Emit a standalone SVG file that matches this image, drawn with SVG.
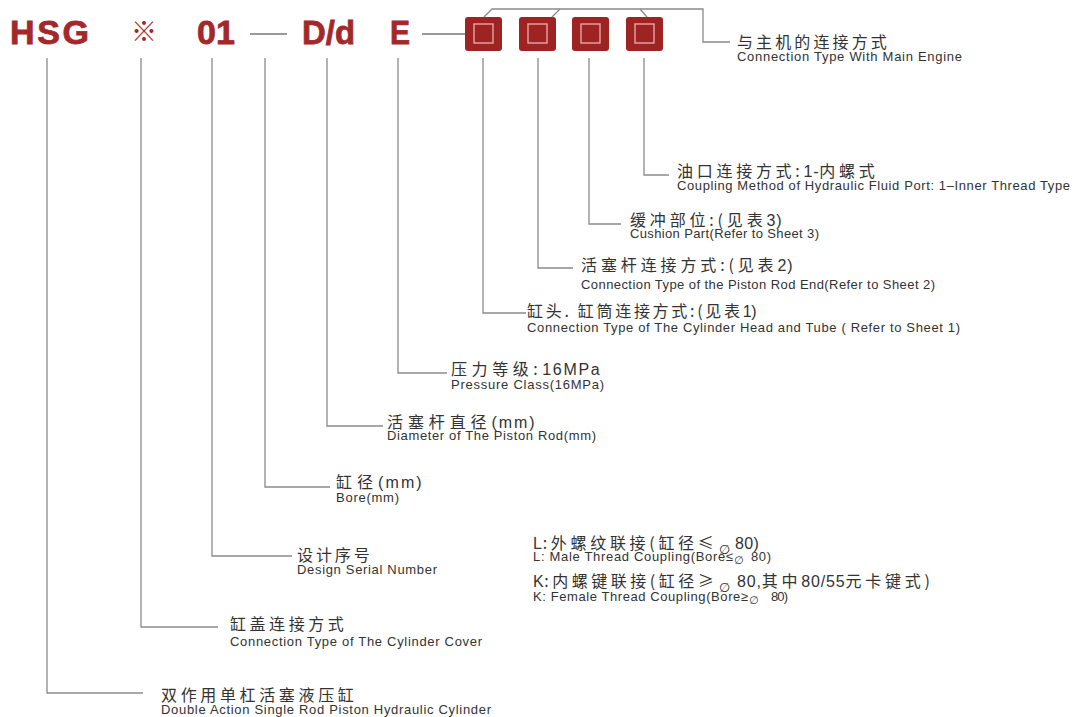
<svg xmlns="http://www.w3.org/2000/svg" width="1074" height="717" viewBox="0 0 1074 717">
<style>
.t{font-family:"Liberation Sans",Arial,sans-serif;font-weight:bold;font-size:34px;fill:#a2282a;stroke:#a2282a;stroke-width:0.8}
.cn{font-family:"Noto Sans CJK SC","Liberation Sans",sans-serif;font-size:16px;fill:#333;letter-spacing:3.2px}
.la{font-family:"Liberation Sans",Arial,sans-serif;letter-spacing:0.3px}
.en{font-family:"Liberation Sans",Arial,sans-serif;font-size:13px;fill:#333}
.ln{fill:none;stroke:#8a8a8a;stroke-width:1.3}
.dash{stroke:#9a9a9a;stroke-width:2}
.sq{fill:#9e2424}
.in{fill:none;stroke:#e9a5a5;stroke-width:1.4}
.phi{font-family:"DejaVu Sans",sans-serif;font-size:13px;fill:#333;font-style:italic}
</style>
<rect width="1074" height="717" fill="#fff"/>
<g id="code">
<text class="t" x="10" y="44" textLength="79" lengthAdjust="spacing">HSG</text>
<text x="131" y="41" style="font-family:'Noto Sans CJK SC',sans-serif;font-size:26px;fill:#a2282a">※</text>
<text class="t" x="197" y="44" textLength="38" lengthAdjust="spacing">01</text>
<text class="t" x="302" y="44" textLength="53" lengthAdjust="spacingAndGlyphs">D/d</text>
<text class="t" x="390" y="44" textLength="20" lengthAdjust="spacingAndGlyphs">E</text>
<line class="dash" x1="250" y1="34" x2="287" y2="34"/>
<line class="dash" x1="422" y1="34" x2="465" y2="34"/>
</g>
<g id="boxes">
<rect class="sq" x="465" y="17" width="37" height="34" rx="3"/>
<rect class="in" x="474" y="24" width="19" height="19"/>
<rect class="sq" x="519" y="17" width="37" height="34" rx="3"/>
<rect class="in" x="528" y="24" width="19" height="19"/>
<rect class="sq" x="572" y="17" width="37" height="34" rx="3"/>
<rect class="in" x="581" y="24" width="19" height="19"/>
<rect class="sq" x="626" y="17" width="37" height="34" rx="3"/>
<rect class="in" x="635" y="24" width="19" height="19"/>
</g>
<g id="connectors">
<polyline class="ln" points="484,17 492,9 703,9 703,42 730,42"/>
<line class="ln" x1="552" y1="17" x2="560" y2="9"/>
<line class="ln" x1="640" y1="9" x2="647" y2="17"/>
<polyline class="ln" points="47,58 47,693 143,693"/>
<polyline class="ln" points="141,58 141,627 218,627"/>
<polyline class="ln" points="212,58 212,556 292,556"/>
<polyline class="ln" points="265,58 265,487 330,487"/>
<polyline class="ln" points="327,58 327,426 383,426"/>
<polyline class="ln" points="398,58 398,373 447,373"/>
<polyline class="ln" points="483,58 483,313 526,313"/>
<polyline class="ln" points="538,58 538,268 573,268"/>
<polyline class="ln" points="589,58 589,224 621,224"/>
<polyline class="ln" points="644,58 644,175 669,175"/>
</g>
<g id="label-engine">
<text class="cn" x="737" y="48" textLength="153" lengthAdjust="spacing">与主机的连接方式</text>
<text class="en" x="737" y="61" textLength="225" lengthAdjust="spacing">Connection Type With Main Engine</text>
</g>
<g id="label-port">
<text class="cn" x="677" y="177" textLength="201" lengthAdjust="spacing">油口连接方式:<tspan class="la">1-</tspan>内螺式</text>
<text class="en" x="677" y="190" textLength="393" lengthAdjust="spacing">Coupling Method of Hydraulic Fluid Port: 1–Inner Thread Type</text>
</g>
<g id="label-cushion">
<text class="cn" x="630" y="226" textLength="152" lengthAdjust="spacing">缓冲部位:(见表<tspan class="la">3)</tspan></text>
<text class="en" x="630" y="238" textLength="189" lengthAdjust="spacing">Cushion Part(Refer to Sheet 3)</text>
</g>
<g id="label-rodend">
<text class="cn" x="581" y="271" textLength="212" lengthAdjust="spacing">活塞杆连接方式:(见表<tspan class="la">2)</tspan></text>
<text class="en" x="581" y="289" textLength="354" lengthAdjust="spacing">Connection Type of the Piston Rod End(Refer to Sheet 2)</text>
</g>
<g id="label-head">
<text class="cn" x="527" y="317" textLength="230" lengthAdjust="spacing">缸头. 缸筒连接方式:(见表<tspan class="la">1)</tspan></text>
<text class="en" x="527" y="332" textLength="433" lengthAdjust="spacing">Connection Type of The Cylinder Head and Tube ( Refer to Sheet 1)</text>
</g>
<g id="label-pressure">
<text class="cn" x="451" y="375" textLength="149" lengthAdjust="spacing">压力等级:<tspan class="la">16MPa</tspan></text>
<text class="en" x="451" y="389" textLength="153" lengthAdjust="spacing">Pressure Class(16MPa)</text>
</g>
<g id="label-rod">
<text class="cn" x="387" y="428" textLength="148" lengthAdjust="spacing">活塞杆直径<tspan class="la">(mm)</tspan></text>
<text class="en" x="387" y="440" textLength="209" lengthAdjust="spacing">Diameter of The Piston Rod(mm)</text>
</g>
<g id="label-bore">
<text class="cn" x="336" y="488" textLength="86" lengthAdjust="spacing">缸径<tspan class="la">(mm)</tspan></text>
<text class="en" x="336" y="502" textLength="63" lengthAdjust="spacing">Bore(mm)</text>
</g>
<g id="label-serial">
<text class="cn" x="297" y="561" textLength="76" lengthAdjust="spacing">设计序号</text>
<text class="en" x="297" y="574" textLength="140" lengthAdjust="spacing">Design Serial Number</text>
</g>
<g id="label-cover">
<text class="cn" x="230" y="630" textLength="117" lengthAdjust="spacing">缸盖连接方式</text>
<text class="en" x="230" y="646" textLength="252" lengthAdjust="spacing">Connection Type of The Cylinder Cover</text>
</g>
<g id="label-cylinder">
<text class="cn" x="161" y="701" textLength="196" lengthAdjust="spacing">双作用单杠活塞液压缸</text>
<text class="en" x="161" y="714" textLength="330" lengthAdjust="spacing">Double Action Single Rod Piston Hydraulic Cylinder</text>
</g>
<g id="label-lk">
<text class="cn" x="533" y="549" textLength="184" lengthAdjust="spacing"><tspan class="la">L</tspan>:外螺纹联接(缸径≤</text>
<text class="phi" x="719" y="554">∅</text>
<text class="cn" x="735" y="549"><tspan class="la">80)</tspan></text>
<text class="en" x="533" y="561" textLength="200" lengthAdjust="spacing">L: Male Thread Coupling(Bore≤</text>
<text class="phi" x="734" y="564" style="font-size:11px">∅</text>
<text class="en" x="751" y="561" textLength="20" lengthAdjust="spacing">80)</text>
<text class="cn" x="533" y="587" textLength="184" lengthAdjust="spacing"><tspan class="la">K</tspan>:内螺键联接(缸径≥</text>
<text class="phi" x="719" y="592">∅</text>
<text class="cn" x="737" y="587" textLength="196" lengthAdjust="spacing"><tspan class="la">80,</tspan>其中<tspan class="la">80/55</tspan>元卡键式)</text>
<text class="en" x="533" y="601" textLength="215" lengthAdjust="spacing">K: Female Thread Coupling(Bore≥</text>
<text class="phi" x="749" y="604" style="font-size:11px">∅</text>
<text class="en" x="771" y="601" textLength="17" lengthAdjust="spacing">80)</text>
</g>
</svg>
